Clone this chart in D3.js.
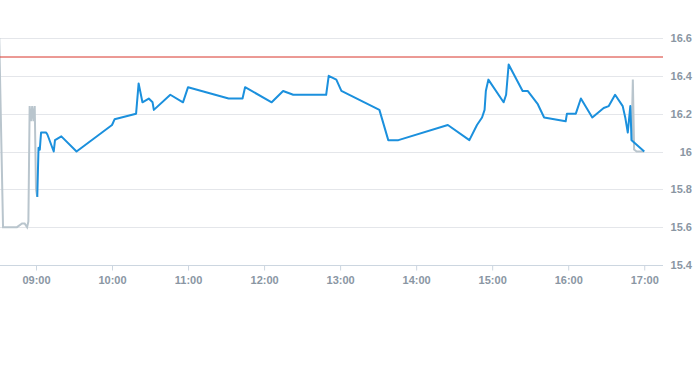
<!DOCTYPE html>
<html>
<head>
<meta charset="utf-8">
<script src="https://cdn.jsdelivr.net/npm/d3@7"></script>
<style>
  body { margin: 0; background: #fff; }
  .c_chart text { font-family: "Liberation Sans", Arial, sans-serif; font-size: 11px; font-weight: bold; fill: #8a96a3; }
</style>
</head>
<body>
<div class="c_chart"></div>
<script>
/*DATA
------------------------------------------------------
*/
const mainTimes = ["09:01","09:02","09:03","09:04","09:08","09:09","09:14","09:15","09:20","09:32",
  "10:00","10:02","10:19","10:21","10:24","10:29","10:32","10:33","10:46","10:56",
  "11:00","11:32","11:43","11:45","12:06","12:15","12:23","12:49","12:51","12:57",
  "13:01","13:31","13:38","13:46","14:25","14:42","14:48","14:52","14:54","14:55",
  "14:57","15:09","15:11","15:13","15:24","15:28","15:36","15:41","15:58","15:59",
  "16:06","16:10","16:19","16:28","16:32","16:37","16:43","16:45","16:47","16:49",
  "16:50","17:00"];
const mainValues = [15.76,16.02,16.01,16.10,16.10,16.09,16.00,16.06,16.08,16.00,
  16.14,16.17,16.20,16.36,16.26,16.28,16.26,16.22,16.30,16.26,
  16.34,16.28,16.28,16.34,16.26,16.32,16.30,16.30,16.40,16.38,
  16.32,16.22,16.06,16.06,16.14,16.06,16.14,16.18,16.22,16.32,
  16.38,16.26,16.30,16.46,16.32,16.32,16.25,16.18,16.16,16.20,
  16.20,16.28,16.18,16.23,16.24,16.30,16.24,16.18,16.10,16.24,
  16.06,16.00];

const extraTimes = ["08:31","08:34","08:45","08:49","08:51","08:53","08:54","08:55","08:56","08:57",
  "08:58","08:59","09:00","09:01",
  "16:50","16:51","16:52","16:54","17:00"];
const extraValues = [16.60,15.60,15.60,15.62,15.62,15.60,15.63,16.24,16.16,16.24,
  16.16,16.24,15.80,15.76,
  16.06,16.38,16.01,16.00,16.00];

const yTicks = [15.4,15.6,15.8,16,16.2,16.4,16.6];
const xTicks = ["09:00","10:00","11:00","12:00","13:00","14:00","15:00","16:00","17:00"];
const limitValue = 16.5;
const xDomain = ["08:31:36","17:14:48"];

/*SVG
------------------------------------------------------
*/
const width = 693;
const height = 365;

let svg = d3.select(".c_chart")
	.append("svg")
	.attr("width", width)
	.attr("height", height);

const parse = d3.timeParse("%H:%M");
const parseS = d3.timeParse("%H:%M:%S");

const x = d3.scaleTime()
	.domain(xDomain.map(parseS))
	.range([0, 663]);

const y = d3.scaleLinear()
	.domain([15.4, 16.6])
	.range([265, 38]);

/*GRID
------------------------------------------------------
*/
svg.append("g")
	.selectAll("line")
	.data(yTicks)
	.enter()
	.append("line")
	.attr("x1", 0)
	.attr("x2", 663)
	.attr("y1", d => Math.round(y(d)) + 0.5)
	.attr("y2", d => Math.round(y(d)) + 0.5)
	.attr("stroke", d => d === 15.4 ? "#ccd6e0" : "#e4e6ea")
	.attr("stroke-width", 1);

svg.append("g")
	.selectAll("text")
	.data(yTicks)
	.enter()
	.append("text")
	.attr("x", 692)
	.attr("y", d => y(d) + 4)
	.attr("text-anchor", "end")
	.text(d => d3.format("~g")(d));

/*X AXIS
------------------------------------------------------
*/
const xAxis = svg.append("g")
	.attr("transform", "translate(0,265.5)")
	.call(d3.axisBottom(x)
		.tickValues(xTicks.map(parse))
		.tickFormat(d3.timeFormat("%H:%M"))
		.tickSize(5)
		.tickPadding(6));

xAxis.select(".domain").remove();
xAxis.selectAll(".tick line").attr("stroke", "#ccd6e0");
xAxis.selectAll(".tick text")
	.attr("fill", "#8a96a3")
	.style("font-family", "'Liberation Sans', Arial, sans-serif")
	.style("font-size", "11px")
	.style("font-weight", "bold");

/*LINES
------------------------------------------------------
*/
svg.append("clipPath")
	.attr("id", "clip")
	.append("rect")
	.attr("x", 0).attr("y", 0)
	.attr("width", 663).attr("height", 265);

const line = d3.line()
	.x(d => x(d[0]))
	.y(d => y(d[1]));

const seg1 = extraTimes.slice(0, 14).map((t, i) => [parse(t), extraValues[i]]);
const seg2 = extraTimes.slice(14).map((t, i) => [parse(t), extraValues[i + 14]]);

const g = svg.append("g").attr("clip-path", "url(#clip)");

[seg1, seg2].forEach(seg => {
	g.append("path")
		.attr("d", line(seg))
		.attr("fill", "none")
		.attr("stroke", "#b9c5cd")
		.attr("stroke-width", 2);
});

g.append("path")
	.attr("d", line(mainTimes.map((t, i) => [parse(t), mainValues[i]])))
	.attr("fill", "none")
	.attr("stroke", "#1b90dd")
	.attr("stroke-width", 2)
	.attr("stroke-linejoin", "round");

// limit line
svg.append("line")
	.attr("x1", 0)
	.attr("x2", 663)
	.attr("y1", Math.round(y(limitValue)))
	.attr("y2", Math.round(y(limitValue)))
	.attr("stroke", "#d8342a")
	.attr("stroke-width", 1);
</script>
</body>
</html>
